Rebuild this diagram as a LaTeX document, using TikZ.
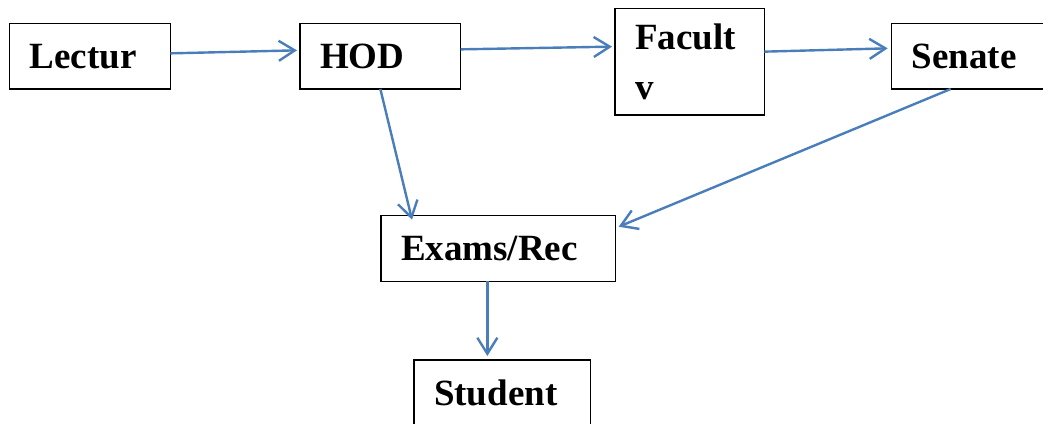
\documentclass[tikz,border=0pt]{standalone}
\usepackage{fontspec}
\setmainfont{Liberation Serif}
\usetikzlibrary{arrows.meta}
\definecolor{flowblue}{RGB}{74,126,187}
\begin{document}
\begin{tikzpicture}[x=1pt,y=-1pt,
  stagebox/.style={draw=black, line width=1.3pt, rectangle, outer sep=0pt,
    inner xsep=20pt, inner ysep=0pt, align=left, anchor=north west,
    font=\bfseries\fontsize{37}{50}\selectfont},
  flow/.style={draw=flowblue, line width=2.4pt,
    -{Straight Barb[length=16pt,width=20pt]}}]
  \useasboundingbox (0,0) rectangle (1043,423);
  \clip (0,0) rectangle (1043,423);

  % process stages
  \node[stagebox, text width=120.6pt, minimum height=65.3pt] (lect) at (9.7,23.7) {Lectur};
  \node[stagebox, text width=120.7pt, minimum height=65.3pt] (hod)  at (300,23.7) {HOD};
  \node[stagebox, text width=109.3pt, minimum height=106.7pt] (fac) at (615,8.3) {Facult\\v};
  \node[stagebox, text width=118.3pt, minimum height=65.3pt] (sen)  at (891.7,23.7) {Senate};
  \node[stagebox, text width=194.7pt, minimum height=65.6pt] (ex)   at (381,215.7) {Exams/Rec};
  \node[stagebox, text width=136.7pt, minimum height=66pt] (stu)    at (414,360) {Student};

  % flow of results
  \draw[flow] ([yshift=3pt]lect.east) -- ([xshift=-3pt,yshift=6pt]hod.west);
  \draw[flow] ([yshift=7pt]hod.east) -- ([xshift=-3pt,yshift=15pt]fac.west);
  \draw[flow] ([yshift=10pt]fac.east) -- ([xshift=-4pt,yshift=8pt]sen.west);
  \draw[flow] (hod.south) -- ([xshift=31pt,yshift=-4pt]ex.north west);
  \draw[flow] ([xshift=59pt]sen.south west) -- ([xshift=3pt,yshift=-11pt]ex.north east);
  \draw[flow] ([xshift=-11pt]ex.south) -- ([xshift=-15pt,yshift=4pt]stu.north);
\end{tikzpicture}
\end{document}
